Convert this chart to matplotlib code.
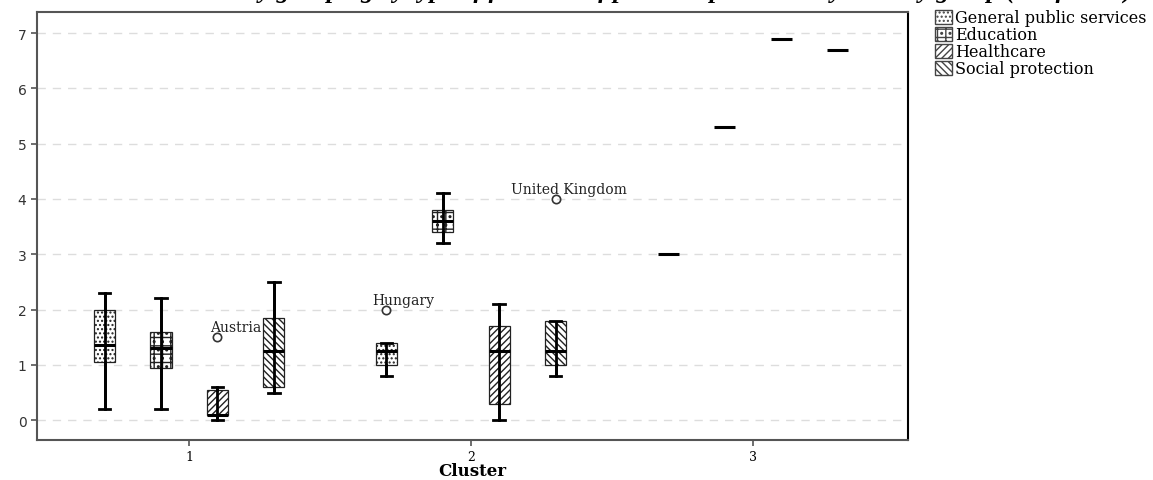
import matplotlib
matplotlib.use("Agg")
import matplotlib.pyplot as plt
from matplotlib.patches import Patch

# cluster positions and series
clusters = [1, 2, 3]
series = ["General public services", "Education", "Healthcare", "Social protection"]
hatches = ["....", "++..", "/////", "\\\\\\\\\\"]

# box stats per series, one value per cluster
q1 = {
    "General public services": [1.05, 1.0, 3.0],
    "Education": [0.95, 3.4, 5.3],
    "Healthcare": [0.1, 0.3, 6.9],
    "Social protection": [0.6, 1.0, 6.7],
}
med = {
    "General public services": [1.35, 1.25, 3.0],
    "Education": [1.3, 3.6, 5.3],
    "Healthcare": [0.1, 1.25, 6.9],
    "Social protection": [1.25, 1.25, 6.7],
}
q3 = {
    "General public services": [2.0, 1.4, 3.0],
    "Education": [1.6, 3.8, 5.3],
    "Healthcare": [0.55, 1.7, 6.9],
    "Social protection": [1.85, 1.8, 6.7],
}
whislo = {
    "General public services": [0.2, 0.8, 3.0],
    "Education": [0.2, 3.2, 5.3],
    "Healthcare": [0.0, 0.0, 6.9],
    "Social protection": [0.5, 0.8, 6.7],
}
whishi = {
    "General public services": [2.3, 1.4, 3.0],
    "Education": [2.2, 4.1, 5.3],
    "Healthcare": [0.6, 2.1, 6.9],
    "Social protection": [2.5, 1.8, 6.7],
}
# labelled outliers: (series, cluster index, value, label)
outliers = [
    ("Healthcare", 0, 1.5, "Austria"),
    ("General public services", 1, 2.0, "Hungary"),
    ("Social protection", 1, 4.0, "United Kingdom"),
]
label_offsets = {"Austria": (-5, 2), "Hungary": (-10, 2), "United Kingdom": (-32, 2)}

offsets = [-0.3, -0.1, 0.1, 0.3]
box_w = 0.075

plt.rcParams['font.family'] = ['DejaVu Serif']

fig = plt.figure(figsize=(11.53, 4.81), dpi=100)
ax = fig.add_axes([0.032, 0.083, 0.7555, 0.89])

for s, name in enumerate(series):
    stats = []
    pos = []
    for c in range(len(clusters)):
        fl = [v for (sn, ci, v, lb) in outliers if sn == name and ci == c]
        stats.append(dict(med=med[name][c], q1=q1[name][c], q3=q3[name][c],
                          whislo=whislo[name][c], whishi=whishi[name][c], fliers=fl))
        pos.append(clusters[c] + offsets[s])
    single = [q1[name][c] == q3[name][c] for c in range(len(clusters))]
    bp = ax.bxp(stats, positions=pos, widths=box_w, capwidths=box_w * 0.55,
                patch_artist=True, showfliers=True,
                boxprops=dict(facecolor="white", edgecolor="#222222", linewidth=0.9),
                medianprops=dict(color="black", linewidth=2.2, zorder=4),
                whiskerprops=dict(color="black", linewidth=2),
                capprops=dict(color="black", linewidth=2),
                flierprops=dict(marker="o", markerfacecolor="none", markeredgecolor="#333333",
                                markersize=6, markeredgewidth=1.2))
    for b, one in zip(bp["boxes"], single):
        b.set_hatch(hatches[s])
        if one:
            b.set_visible(False)
    for i, one in enumerate(single):
        if one:
            bp["caps"][2 * i].set_visible(False)
            bp["caps"][2 * i + 1].set_visible(False)
    # whisker line runs through the box
    multi = [i for i, one in enumerate(single) if not one]
    ax.vlines([pos[i] for i in multi], [whislo[name][i] for i in multi],
              [whishi[name][i] for i in multi], color="black", linewidth=2, zorder=3)

for (name, c, v, lb) in outliers:
    x = clusters[c] + offsets[series.index(name)]
    ax.annotate(lb, (x, v), xytext=label_offsets[lb], textcoords="offset points",
                fontsize=10, ha="left", va="bottom", color="#222222")

ax.set_xlim(0.46, 3.55)
ax.set_ylim(-0.36, 7.38)
ax.set_xticks(clusters)
ax.set_xticklabels([str(c) for c in clusters], fontsize=9)
ax.set_yticks(range(0, 8))
ax.set_yticklabels([str(i) for i in range(0, 8)], fontsize=10, family="DejaVu Sans", color="#333333")
ax.yaxis.grid(True, linestyle=(0, (6, 5)), color="#dddddd", linewidth=1)
ax.set_axisbelow(True)
for sp in ax.spines.values():
    sp.set_color("#555555")
    sp.set_linewidth(1.5)
ax.spines["right"].set_color("black")
ax.tick_params(axis="both", length=4, width=1.2, color="#555555")
ax.set_xlabel("Cluster", fontsize=12, fontweight="bold", labelpad=-1)

handles = [Patch(facecolor="white", edgecolor="#444444", hatch=h, label=n)
           for n, h in zip(series, hatches)]
fig.legend(handles=handles, loc="upper left", bbox_to_anchor=(0.805, 0.992), frameon=False,
           fontsize=11.5, handlelength=1.1, handleheight=1.0, handletextpad=0.2,
           labelspacing=0.0, borderaxespad=0)

fig.text(0.57, 1 + 2 / 481, "Country grouping by type of function of public expenditure by country group (% of GDP)",
         ha="center", va="baseline", fontsize=18.5, fontweight="bold", style="italic",
         family="Liberation Serif")

fig.savefig("out.png", dpi=100)
